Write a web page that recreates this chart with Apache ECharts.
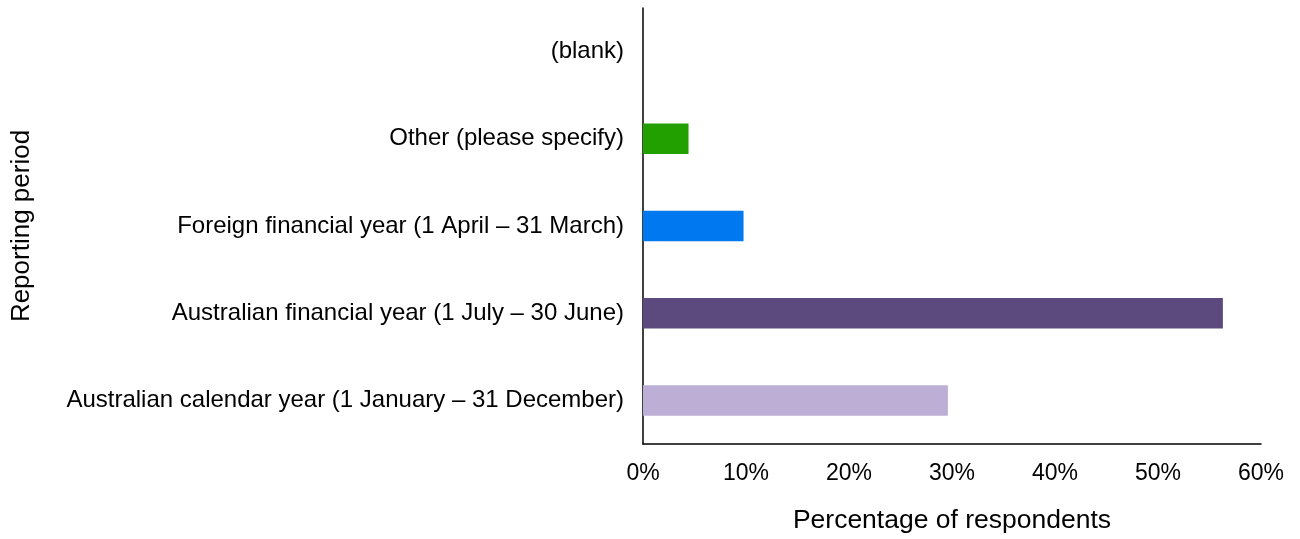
<!DOCTYPE html>
<html>
<head>
<meta charset="utf-8">
<script src="https://cdn.jsdelivr.net/npm/echarts@6/dist/echarts.min.js"></script>
<style>
  html, body { margin: 0; padding: 0; background: #fff; }
  #chart { width: 1300px; height: 539px; }
</style>
</head>
<body>
<div id="chart"></div>
<script>
// categories bottom -> top
const categories = [
  'Australian calendar year (1 January \u2013 31 December)',
  'Australian financial year (1 July \u2013 30 June)',
  'Foreign financial year (1 April \u2013 31 March)',
  'Other (please specify)',
  '(blank)'
];
const values = [29.6, 56.3, 9.76, 4.42, 0];
const barColors = ['#BCAED4', '#5C4A7E', '#0078F0', '#21A000', '#ffffff'];
const xTicks = [0, 10, 20, 30, 40, 50, 60];

const font = 'Liberation Sans, Arial, sans-serif';
const chart = echarts.init(document.getElementById('chart'));

chart.setOption({
  animation: false,
  grid: { left: 643, right: 39, top: 8, bottom: 95, containLabel: false },
  xAxis: {
    type: 'value',
    min: xTicks[0],
    max: xTicks[xTicks.length - 1],
    interval: 10,
    name: 'Percentage of respondents',
    nameLocation: 'middle',
    nameGap: 63,
    nameTextStyle: { fontSize: 26.5, color: '#000', fontFamily: font },
    axisLine: { show: true, lineStyle: { color: '#000', width: 1.5 } },
    axisTick: { show: false },
    splitLine: { show: false },
    axisLabel: {
      fontSize: 23, color: '#000', fontFamily: font, margin: 18,
      formatter: v => v + '%'
    }
  },
  yAxis: {
    type: 'category',
    data: categories,
    name: 'Reporting period',
    nameLocation: 'middle',
    nameGap: 608,
    nameRotate: 90,
    nameTextStyle: { fontSize: 26, color: '#000', fontFamily: font },
    axisLine: { show: true, lineStyle: { color: '#000', width: 1.5 } },
    axisTick: { show: false },
    axisLabel: { fontSize: 24, color: '#000', fontFamily: font, margin: 19, padding: [6, 0, 0, 0] }
  },
  series: [{
    type: 'bar',
    barWidth: '35%',
    data: values.map((v, i) => ({ value: v, itemStyle: { color: barColors[i] } }))
  }]
});
</script>
</body>
</html>
